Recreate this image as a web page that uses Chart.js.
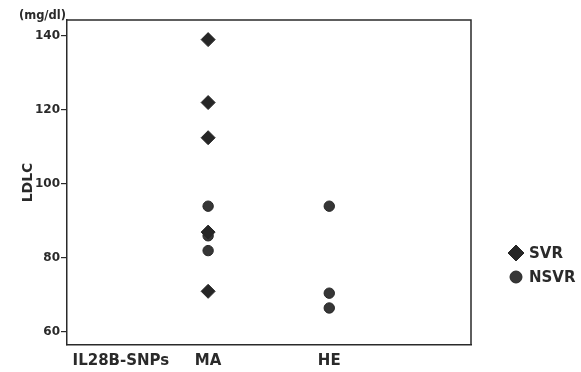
<!DOCTYPE html>
<html>
<head>
<meta charset="utf-8">
<script src="https://cdn.jsdelivr.net/npm/chart.js@4/dist/chart.umd.min.js"></script>
<style>
  html, body { margin: 0; padding: 0; background: #ffffff; }
  #wrap { width: 581px; height: 372px; }
</style>
</head>
<body>
<div id="wrap"><canvas id="c" width="581" height="372"></canvas></div>
<script>
// ---- data ----
const groupLabels = ['IL28B-SNPs', 'MA', 'HE'];
const groupPositions = [0.28, 1, 2];
const yTickValues = [60, 80, 100, 120, 140];
const unitLabel = '(mg/dl)';
const yTitle = 'LDLC';
const seriesNames = ['SVR', 'NSVR'];
const svrMA = [139, 122, 112.5, 87, 71];
const svrHE = [];
const nsvrMA = [94, 86, 82];
const nsvrHE = [94, 70.5, 66.5];

const toPoints = (vals, x) => vals.map(v => ({ x: x, y: v }));

const FONT = "'DejaVu Sans', 'Liberation Sans', Arial, sans-serif";
const INK = '#2a2a2a';

const frameAndLegend = {
  id: 'frameAndLegend',
  afterDraw(chart) {
    const ctx = chart.ctx;
    const a = chart.chartArea;
    ctx.save();
    ctx.strokeStyle = INK;
    ctx.lineWidth = 1.5;
    ctx.beginPath();
    ctx.moveTo(a.left, a.top);
    ctx.lineTo(a.right, a.top);
    ctx.lineTo(a.right, a.bottom);
    ctx.stroke();
    // unit label
    ctx.fillStyle = INK;
    ctx.font = "bold 11.5px " + FONT;
    ctx.textAlign = 'right';
    ctx.textBaseline = 'alphabetic';
    ctx.fillText(unitLabel, a.left - 1, 19);
    // legend
    const lx = 516, ly0 = 253, gap = 24;
    chart.data.datasets.forEach((ds, i) => {
      const y = ly0 + i * gap;
      ctx.fillStyle = ds.backgroundColor;
      ctx.strokeStyle = ds.borderColor;
      ctx.lineWidth = 1;
      Chart.helpers.drawPoint(ctx, { pointStyle: ds.pointStyle, radius: ds.legendRadius, borderWidth: 1, rotation: 0 }, lx, y);
      ctx.fillStyle = INK;
      ctx.font = "bold 15px " + FONT;
      ctx.textAlign = 'left';
      ctx.textBaseline = 'middle';
      ctx.fillText(ds.label, 529, y + 1);
    });
    ctx.restore();
  }
};

new Chart(document.getElementById('c'), {
  type: 'scatter',
  data: {
    datasets: [
      {
        label: seriesNames[0],
        data: toPoints(svrMA, groupPositions[1]).concat(toPoints(svrHE, groupPositions[2])),
        pointStyle: 'rectRot',
        pointRadius: 7,
        legendRadius: 8,
        backgroundColor: '#262626',
        borderColor: '#262626',
        borderWidth: 1
      },
      {
        label: seriesNames[1],
        data: toPoints(nsvrMA, groupPositions[1]).concat(toPoints(nsvrHE, groupPositions[2])),
        pointStyle: 'circle',
        pointRadius: 5.2,
        legendRadius: 6,
        backgroundColor: '#363636',
        borderColor: '#262626',
        borderWidth: 1
      }
    ]
  },
  options: {
    responsive: false,
    animation: false,
    layout: { padding: { top: 20, right: 110, left: 0, bottom: 0 } },
    plugins: { legend: { display: false }, tooltip: { enabled: false } },
    scales: {
      x: {
        type: 'linear',
        min: -0.165,
        max: 3.17,
        afterBuildTicks: s => { s.ticks = groupPositions.map(v => ({ value: v })); },
        afterFit: s => { s.height = 27; },
        grid: { display: false, drawTicks: false },
        border: { display: true, color: INK, width: 1.5 },
        ticks: {
          autoSkip: false,
          maxRotation: 0,
          padding: 7,
          color: INK,
          font: { family: FONT, size: 15, weight: 'bold' },
          callback: (v) => { const i = groupPositions.indexOf(v); return i >= 0 ? groupLabels[i] : ''; }
        }
      },
      y: {
        min: 56.5,
        max: 144.3,
        afterBuildTicks: s => { s.ticks = yTickValues.map(v => ({ value: v })); },
        afterFit: s => { s.width = 67; },
        grid: { display: true, drawOnChartArea: false, drawTicks: true, tickLength: 6, color: INK, lineWidth: 1.2 },
        border: { display: true, color: INK, width: 1.5 },
        title: {
          display: true,
          text: yTitle,
          color: INK,
          font: { family: FONT, size: 14, weight: 'bold' },
          padding: { top: 20, bottom: 0 }
        },
        ticks: {
          padding: 1,
          color: INK,
          font: { family: FONT, size: 12, weight: 'bold' }
        }
      }
    }
  },
  plugins: [frameAndLegend]
});
</script>
</body>
</html>
